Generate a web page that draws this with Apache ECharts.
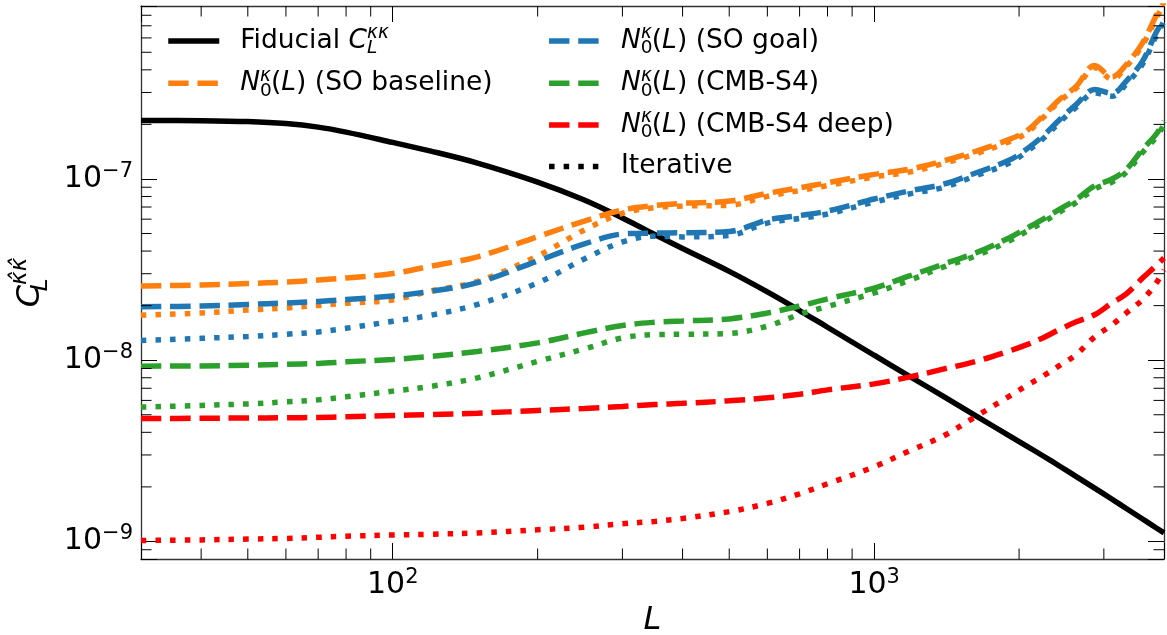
<!DOCTYPE html>
<html><head><meta charset="utf-8">
<script src="https://cdn.jsdelivr.net/npm/echarts@6/dist/echarts.min.js"></script>
<style>html,body{margin:0;padding:0;background:#fff}#c{width:1167px;height:635px}</style>
</head><body><div id="c"></div>
<script>
// ---- data ----
const L_VALUES = [30, 40, 50, 60, 70, 80, 100, 120, 150, 200, 250, 300, 350, 400, 500, 600, 700, 800, 1000, 1180, 1390, 1630, 1910, 2070, 2240, 2430, 2630, 2870, 3120, 3340, 3610, 3850, 4000];
const FIDUCIAL = [2.104e-7, 2.096e-7, 2.072e-7, 2.02e-7, 1.932e-7, 1.814e-7, 1.591e-7, 1.425e-7, 1.224e-7, 9.61e-8, 7.65e-8, 6.09e-8, 4.94e-8, 4.13e-8, 3.09e-8, 2.38e-8, 1.88e-8, 1.52e-8, 1.065e-8, 8.2e-9, 6.33e-9, 4.92e-9, 3.82e-9, 3.37e-9, 2.97e-9, 2.60e-9, 2.28e-9, 1.97e-9, 1.71e-9, 1.52e-9, 1.33e-9, 1.19e-9, 1.115e-9];
const SO_BASE_N0 = [2.57e-8, 2.60e-8, 2.65e-8, 2.70e-8, 2.77e-8, 2.84e-8, 3.01e-8, 3.30e-8, 3.72e-8, 4.80e-8, 5.86e-8, 6.74e-8, 7.13e-8, 7.34e-8, 7.55e-8, 8.33e-8, 8.94e-8, 9.53e-8, 1.06e-7, 1.13e-7, 1.256e-7, 1.425e-7, 1.654e-7, 1.837e-7, 2.22e-7, 2.75e-7, 3.25e-7, 4.23e-7, 3.66e-7, 4.28e-7, 5.63e-7, 7.92e-7, 9.5e-7];
const SO_BASE_ITER = [1.77e-8, 1.823e-8, 1.89e-8, 1.94e-8, 2.005e-8, 2.06e-8, 2.15e-8, 2.41e-8, 2.72e-8, 3.76e-8, 5.23e-8, 6.46e-8, 6.95e-8, 7.09e-8, 7.15e-8, 8.02e-8, 8.63e-8, 9.20e-8, 1.025e-7, 1.09e-7, 1.216e-7, 1.38e-7, 1.607e-7, 1.79e-7, 2.17e-7, 2.69e-7, 3.17e-7, 4.11e-7, 3.55e-7, 4.17e-7, 5.47e-7, 7.66e-7, 9.2e-7];
const SO_GOAL_N0 = [1.97e-8, 1.99e-8, 2.03e-8, 2.07e-8, 2.11e-8, 2.16e-8, 2.26e-8, 2.40e-8, 2.68e-8, 3.53e-8, 4.38e-8, 4.97e-8, 5.03e-8, 5.05e-8, 5.13e-8, 5.93e-8, 6.28e-8, 6.65e-8, 7.75e-8, 8.58e-8, 9.34e-8, 1.082e-7, 1.271e-7, 1.456e-7, 1.724e-7, 2.13e-7, 2.58e-7, 3.12e-7, 2.96e-7, 3.47e-7, 4.47e-7, 6.4e-7, 7.6e-7];
const SO_GOAL_ITER = [1.286e-8, 1.32e-8, 1.352e-8, 1.39e-8, 1.432e-8, 1.50e-8, 1.64e-8, 1.77e-8, 2.03e-8, 2.67e-8, 3.62e-8, 4.49e-8, 4.83e-8, 4.79e-8, 4.88e-8, 5.71e-8, 6.05e-8, 6.41e-8, 7.46e-8, 8.26e-8, 8.97e-8, 1.044e-7, 1.224e-7, 1.407e-7, 1.66e-7, 2.06e-7, 2.49e-7, 2.98e-7, 2.86e-7, 3.34e-7, 4.30e-7, 6.14e-7, 7.4e-7];
const S4_N0 = [9.27e-9, 9.30e-9, 9.38e-9, 9.48e-9, 9.60e-9, 9.79e-9, 1.01e-8, 1.049e-8, 1.118e-8, 1.246e-8, 1.414e-8, 1.555e-8, 1.62e-8, 1.647e-8, 1.69e-8, 1.82e-8, 1.99e-8, 2.18e-8, 2.50e-8, 2.91e-8, 3.38e-8, 3.92e-8, 4.74e-8, 5.33e-8, 5.99e-8, 6.82e-8, 7.72e-8, 9.15e-8, 9.99e-8, 1.13e-7, 1.456e-7, 1.76e-7, 2.085e-7];
const S4_ITER = [5.51e-9, 5.63e-9, 5.74e-9, 5.89e-9, 6.04e-9, 6.28e-9, 6.75e-9, 7.17e-9, 7.99e-9, 9.85e-9, 1.154e-8, 1.327e-8, 1.384e-8, 1.39e-8, 1.405e-8, 1.54e-8, 1.79e-8, 1.98e-8, 2.35e-8, 2.75e-8, 3.26e-8, 3.77e-8, 4.56e-8, 5.13e-8, 5.76e-8, 6.57e-8, 7.43e-8, 8.80e-8, 9.61e-8, 1.088e-7, 1.401e-7, 1.696e-7, 2.0e-7];
const S4_DEEP_N0 = [4.77e-9, 4.78e-9, 4.80e-9, 4.81e-9, 4.83e-9, 4.87e-9, 4.95e-9, 5.01e-9, 5.10e-9, 5.28e-9, 5.42e-9, 5.56e-9, 5.69e-9, 5.78e-9, 5.97e-9, 6.20e-9, 6.48e-9, 6.86e-9, 7.40e-9, 8.06e-9, 8.92e-9, 9.87e-9, 1.125e-8, 1.214e-8, 1.327e-8, 1.479e-8, 1.63e-8, 1.78e-8, 2.07e-8, 2.32e-8, 2.84e-8, 3.32e-8, 3.66e-8];
const S4_DEEP_ITER = [1.013e-9, 1.02e-9, 1.03e-9, 1.039e-9, 1.054e-9, 1.068e-9, 1.085e-9, 1.096e-9, 1.114e-9, 1.160e-9, 1.198e-9, 1.252e-9, 1.29e-9, 1.339e-9, 1.46e-9, 1.62e-9, 1.83e-9, 2.08e-9, 2.58e-9, 3.15e-9, 3.81e-9, 4.91e-9, 6.33e-9, 7.22e-9, 8.16e-9, 9.36e-9, 1.074e-8, 1.344e-8, 1.565e-8, 1.823e-8, 2.16e-8, 2.65e-8, 3.15e-8];

const X_MIN = 30, X_MAX = 4000;
const Y_MIN = 8e-10, Y_MAX = 9e-7;
const X_MINOR_TICKS = [40, 50, 60, 70, 80, 90, 200, 300, 400, 500, 600, 700, 800, 900, 2000, 3000];
const Y_MINOR_TICKS = [9e-10, 2e-9, 3e-9, 4e-9, 5e-9, 6e-9, 7e-9, 8e-9, 9e-9, 2e-8, 3e-8, 4e-8, 5e-8, 6e-8, 7e-8, 8e-8, 9e-8, 2e-7, 3e-7, 4e-7, 5e-7, 6e-7, 7e-7, 8e-7];

const LEGEND_LABELS = {
  'Fiducial': '{g| }Fiducial {i|C}{sub|L}{sup|κκ}',
  'SO baseline': '{g| }{i|N}{sub0|0}{sup|κ}({i|L}) (SO baseline)',
  'SO goal': '{g| }{i|N}{sub0|0}{sup|κ}({i|L}) (SO goal)',
  'CMB-S4': '{g| }{i|N}{sub0|0}{sup|κ}({i|L}) (CMB-S4)',
  'CMB-S4 deep': '{g| }{i|N}{sub0|0}{sup|κ}({i|L}) (CMB-S4 deep)',
  'Iterative': '{g| }Iterative'
};

// ---- styling ----
const FONT = 'DejaVu Sans';
const LW = 5.5;
const DASH = [20.4, 8.8];
const DOT = [5.5, 9.1];
const C_ORANGE = '#ff7f0e', C_BLUE = '#1f77b4', C_GREEN = '#2ca02c', C_RED = '#ff0000';

function pairs(ys) { return L_VALUES.map((l, i) => [l, ys[i]]); }
function lineSeries(name, ys, color, type, z) {
  return { name: name, type: 'line', data: pairs(ys), symbol: 'none', smooth: 0.35, clip: true,
    z: z, silent: true, lineStyle: { color: color, width: LW, type: type, cap: 'butt' }, itemStyle: { color: color } };
}
function powLabel(v) {
  const e = Math.log10(v), r = Math.round(e);
  if (Math.abs(e - r) > 1e-6) return '';
  return '{b|10}{s|' + (r < 0 ? '\u2212' + (-r) : String(r)) + '}';
}
const tickRich = {
  b: { fontSize: 30, fontFamily: FONT, color: '#000', lineHeight: 36 },
  s: { fontSize: 21, fontFamily: FONT, color: '#000', verticalAlign: 'top', lineHeight: 22 }
};
const LFS = 26.5, LSS = 18.5;
const legendRich = {
  g: { width: 16 },
  i: { fontStyle: 'italic', fontSize: LFS, fontFamily: FONT, color: '#000', lineHeight: 34 },
  sup: { fontStyle: 'italic', fontSize: LSS, fontFamily: FONT, color: '#000', verticalAlign: 'top', lineHeight: 15 },
  sub: { fontStyle: 'italic', fontSize: LSS, fontFamily: FONT, color: '#000', verticalAlign: 'bottom', lineHeight: 16, width: 0.01 },
  sub0: { fontSize: LSS, fontFamily: FONT, color: '#000', verticalAlign: 'bottom', lineHeight: 16, width: 0.01 }
};
function legendAt(name, left, cy) {
  return { data: [name], left: left, top: cy - 17, orient: 'horizontal', padding: 0, itemGap: 0,
    itemWidth: 51, itemHeight: 2, selectedMode: false, itemStyle: { opacity: 0 },
    lineStyle: { width: LW },
    textStyle: { fontSize: LFS, fontFamily: FONT, color: '#000', lineHeight: 34, rich: legendRich },
    formatter: n => LEGEND_LABELS[n] };
}
const axisLineStyle = { color: '#333', width: 1.3 };
const majorTick = { show: true, inside: true, length: 16, lineStyle: { color: '#000', width: 1 } };
const MINOR_LEN = 10.5;

const chart = echarts.init(document.getElementById('c'), null, { renderer: 'canvas' });
chart.setOption({
  animation: false,
  backgroundColor: '#fff',
  grid: { left: 141, right: 3, top: 6, bottom: 76, containLabel: false, outerBoundsMode: 'none' },
  legend: [
    legendAt('Fiducial', 165.5, 41),
    legendAt('SO baseline', 165.5, 83.3),
    legendAt('SO goal', 546.3, 41),
    legendAt('CMB-S4', 546.3, 83.3),
    legendAt('CMB-S4 deep', 546.3, 125),
    legendAt('Iterative', 546.3, 166.5)
  ],
  xAxis: [
    { type: 'log', logBase: 10, min: X_MIN, max: X_MAX, position: 'bottom',
      axisLine: { show: true, lineStyle: axisLineStyle }, axisTick: majorTick, splitLine: { show: false },
      axisLabel: { formatter: powLabel, margin: 8, rich: tickRich },
      name: 'L', nameLocation: 'middle', nameGap: 42,
      nameTextStyle: { fontStyle: 'italic', fontSize: 32, fontFamily: FONT, color: '#000', lineHeight: 32 } },
    { type: 'log', logBase: 10, min: X_MIN, max: X_MAX, position: 'top',
      axisLine: { show: true, lineStyle: axisLineStyle }, axisTick: majorTick, splitLine: { show: false },
      axisLabel: { show: false } }
  ],
  yAxis: [
    { type: 'log', logBase: 10, min: Y_MIN, max: Y_MAX, position: 'left',
      axisLine: { show: true, lineStyle: axisLineStyle }, axisTick: majorTick, splitLine: { show: false },
      axisLabel: { formatter: powLabel, margin: 8, rich: tickRich },
      name: '{c|C}{sub|L}{sup|κ\u0302κ\u0302}', nameLocation: 'middle', nameRotate: 90, nameGap: 78,
      nameTextStyle: { rich: {
        c: { fontStyle: 'italic', fontSize: 32, fontFamily: FONT, color: '#000', lineHeight: 44 },
        sup: { fontStyle: 'italic', fontSize: 23, fontFamily: FONT, color: '#000', verticalAlign: 'top', lineHeight: 20 },
        sub: { fontStyle: 'italic', fontSize: 23, fontFamily: FONT, color: '#000', verticalAlign: 'bottom', lineHeight: 20, width: 0.01 }
      } } },
    { type: 'log', logBase: 10, min: Y_MIN, max: Y_MAX, position: 'right',
      axisLine: { show: true, lineStyle: axisLineStyle }, axisTick: majorTick, splitLine: { show: false },
      axisLabel: { show: false } }
  ],
  series: [
    lineSeries('Fiducial', FIDUCIAL, '#000', 'solid', 2),
    lineSeries('SO baseline', SO_BASE_N0, C_ORANGE, DASH, 3),
    lineSeries('SO baseline (iterative)', SO_BASE_ITER, C_ORANGE, DOT, 3),
    lineSeries('SO goal', SO_GOAL_N0, C_BLUE, DASH, 4),
    lineSeries('SO goal (iterative)', SO_GOAL_ITER, C_BLUE, DOT, 4),
    lineSeries('CMB-S4', S4_N0, C_GREEN, DASH, 5),
    lineSeries('CMB-S4 (iterative)', S4_ITER, C_GREEN, DOT, 5),
    lineSeries('CMB-S4 deep', S4_DEEP_N0, C_RED, DASH, 6),
    lineSeries('CMB-S4 deep (iterative)', S4_DEEP_ITER, C_RED, DOT, 6),
    { name: 'Iterative', type: 'line', data: [], symbol: 'none', itemStyle: { color: '#000' },
      lineStyle: { color: '#000', width: LW, type: DOT } },
    { type: 'custom', name: 'xMinor', silent: true, z: 20, clip: false,
      data: X_MINOR_TICKS.map(v => [v, Y_MIN]),
      renderItem: function (params, api) {
        const v = api.value(0);
        const pb = api.coord([v, Y_MIN]), pt = api.coord([v, Y_MAX]);
        const st = { stroke: '#000', lineWidth: 1 };
        return { type: 'group', children: [
          { type: 'line', shape: { x1: pb[0], y1: pb[1], x2: pb[0], y2: pb[1] - MINOR_LEN }, style: st },
          { type: 'line', shape: { x1: pt[0], y1: pt[1], x2: pt[0], y2: pt[1] + MINOR_LEN }, style: st }
        ] };
      } },
    { type: 'custom', name: 'yMinor', silent: true, z: 20, clip: false,
      data: Y_MINOR_TICKS.map(v => [X_MIN, v]),
      renderItem: function (params, api) {
        const v = api.value(1);
        const pl = api.coord([X_MIN, v]), pr = api.coord([X_MAX, v]);
        const st = { stroke: '#000', lineWidth: 1 };
        return { type: 'group', children: [
          { type: 'line', shape: { x1: pl[0], y1: pl[1], x2: pl[0] + MINOR_LEN, y2: pl[1] }, style: st },
          { type: 'line', shape: { x1: pr[0], y1: pr[1], x2: pr[0] - MINOR_LEN, y2: pr[1] }, style: st }
        ] };
      } }
  ]
});
</script>
</body></html>
